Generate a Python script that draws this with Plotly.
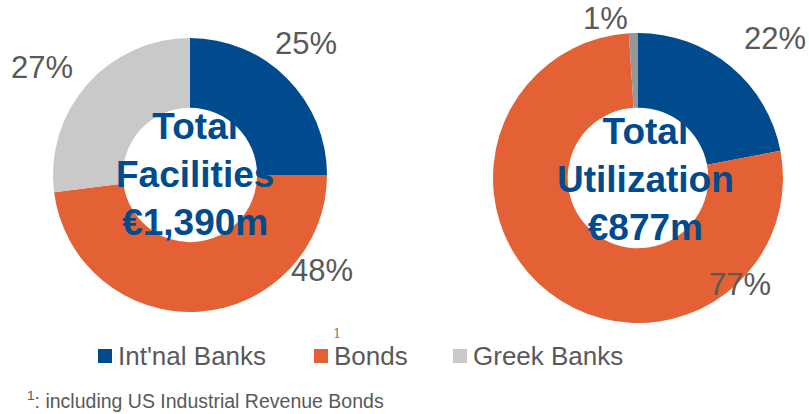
import plotly.graph_objects as go

# Funding split, in percent
categories = ["Int'nal Banks", "Bonds", "Greek Banks"]
facilities_pct = [25, 48, 27]
utilization_pct = [22, 77, 1]
facilities_total = "€1,390m"
utilization_total = "€877m"

W, H = 809, 414
BLUE = "#004B8D"
ORANGE = "#E36135"
LIGHT_GREY = "#C9C9C9"
MID_GREY = "#979797"
TEXT_GREY = "#595959"
FONT = "Liberation Sans, Arial, sans-serif"
legend_colors = [BLUE, ORANGE, LIGHT_GREY]


def px(x):
    return x / W


def py(y):
    return 1 - y / H


fig = go.Figure()

fig.add_trace(go.Pie(
    labels=categories, values=facilities_pct, hole=0.49, sort=False,
    direction="clockwise", rotation=0, textinfo="none",
    marker=dict(colors=[BLUE, ORANGE, LIGHT_GREY], line=dict(width=0)),
    domain=dict(x=[px(53), px(327)], y=[py(312), py(38)]),
    showlegend=False, name="Total Facilities",
))
fig.add_trace(go.Pie(
    labels=categories, values=utilization_pct, hole=0.485, sort=False,
    direction="clockwise", rotation=0, textinfo="none",
    marker=dict(colors=[BLUE, ORANGE, MID_GREY], line=dict(width=0)),
    domain=dict(x=[px(493), px(783)], y=[py(323), py(33)]),
    showlegend=False, name="Total Utilization",
))

annotations = []
shapes = []

# Percentage labels around each ring
left_label_pos = [(306, 43), (322, 270), (42, 67)]
right_label_pos = [(775, 39), (740, 284), (605, 19)]
for vals, positions in ((facilities_pct, left_label_pos), (utilization_pct, right_label_pos)):
    for v, (x, y) in zip(vals, positions):
        annotations.append(dict(
            x=px(x), y=py(y), xref="paper", yref="paper", text=f"{v}%",
            showarrow=False, font=dict(family=FONT, size=31, color=TEXT_GREY),
            xanchor="center", yanchor="middle",
        ))

# Totals in the centre of each ring
for (cx, cy), title, total in (((195, 174), "Facilities", facilities_total),
                               ((645, 180), "Utilization", utilization_total)):
    annotations.append(dict(
        x=px(cx), y=py(cy), xref="paper", yref="paper",
        text=f"<b>Total<br>{title}<br>{total}</b>", showarrow=False,
        font=dict(family=FONT, size=37, color=BLUE),
        xanchor="center", yanchor="middle", align="center",
    ))

# Legend row: coloured square followed by the category name
legend_square_x = [98, 314, 453]
legend_y = 356
for name, color, x0 in zip(categories, legend_colors, legend_square_x):
    shapes.append(dict(
        type="rect", xref="paper", yref="paper",
        x0=px(x0), x1=px(x0 + 14), y0=py(legend_y + 7), y1=py(legend_y - 7),
        fillcolor=color, line=dict(width=0),
    ))
    annotations.append(dict(
        x=px(x0 + 18), y=py(legend_y), xref="paper", yref="paper", text=name,
        showarrow=False, font=dict(family=FONT, size=26, color=TEXT_GREY),
        xanchor="left", yanchor="middle",
    ))

# Footnote marker above the Bonds entry and the footnote itself
annotations.append(dict(
    x=px(337), y=py(333), xref="paper", yref="paper", text="1", showarrow=False,
    font=dict(family="DejaVu Serif, serif", size=13, color="#7F7F7F"),
    xanchor="center", yanchor="middle",
))
annotations.append(dict(
    x=px(25), y=py(400), xref="paper", yref="paper",
    text="<sup>1</sup>: including US Industrial Revenue Bonds", showarrow=False,
    font=dict(family=FONT, size=19.5, color=TEXT_GREY),
    xanchor="left", yanchor="middle",
))

fig.update_layout(
    width=W, height=H,
    margin=dict(l=0, r=0, t=0, b=0),
    paper_bgcolor="white", plot_bgcolor="white",
    showlegend=False,
    annotations=annotations,
    shapes=shapes,
)

fig.write_html("out.html")
